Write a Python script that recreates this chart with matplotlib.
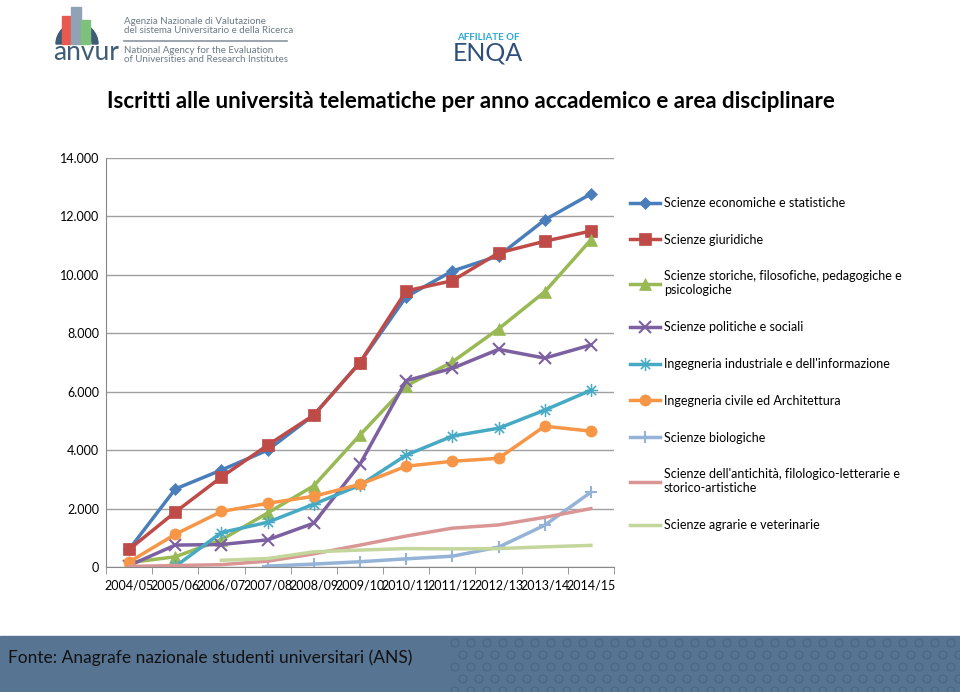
import numpy as np
import matplotlib
matplotlib.use('Agg')
from matplotlib import pyplot as plt
from matplotlib.patches import Rectangle, Wedge, Circle

plt.rcParams['font.family'] = ['Lato', 'DejaVu Sans']

years = ['2004/05', '2005/06', '2006/07', '2007/08', '2008/09', '2009/10',
         '2010/11', '2011/12', '2012/13', '2013/14', '2014/15']
nan = np.nan

economiche = [600, 2670, 3320, 4000, 5200, 7000, 9250, 10130, 10650, 11880, 12770]
giuridiche = [600, 1880, 3080, 4170, 5200, 7000, 9450, 9800, 10750, 11150, 11500]
storiche = [150, 350, 930, 1850, 2780, 4520, 6200, 7020, 8150, 9420, 11200]
politiche = [50, 750, 770, 930, 1500, 3520, 6380, 6800, 7450, 7150, 7600]
industriale = [nan, 20, 1180, 1530, 2150, 2800, 3830, 4480, 4750, 5370, 6050]
civile = [170, 1120, 1900, 2180, 2420, 2830, 3450, 3620, 3720, 4820, 4650]
biologiche = [nan, nan, nan, 30, 100, 180, 280, 370, 680, 1430, 2560]
antichita = [20, 50, 80, 200, 450, 750, 1060, 1330, 1440, 1700, 2000]
agrarie = [nan, nan, 230, 290, 520, 580, 630, 620, 630, 690, 740]

series = [
    ('Scienze economiche e statistiche', economiche, '#4A7EBB', 'D', 6),
    ('Scienze giuridiche', giuridiche, '#BE4B48', 's', 8),
    ('Scienze storiche, filosofiche, pedagogiche e\npsicologiche', storiche, '#98B954', '^', 8),
    ('Scienze politiche e sociali', politiche, '#7D60A0', 'x', 8),
    ("Ingegneria industriale e dell'informazione", industriale, '#46AAC5', '$\u2733$', 9),
    ('Ingegneria civile ed Architettura', civile, '#F79646', 'o', 8),
    ('Scienze biologiche', biologiche, '#95B3D7', '+', 8),
    ("Scienze dell'antichità, filologico-letterarie e\nstorico-artistiche", antichita, '#D99694', None, 0),
    ('Scienze agrarie e veterinarie', agrarie, '#C3D69B', None, 0),
]

W, H = 960, 692
fig = plt.figure(figsize=(W / 100, H / 100), dpi=100)

def box(x0, y0, x1, y1):
    return [x0 / W, 1 - y1 / H, (x1 - x0) / W, (y1 - y0) / H]

def fx(px):
    return px / W

def fy(py):
    return 1 - py / H

# header logos
fig.patches.append(Wedge((77 / 100, (H - 44) / 100), 0.21, 0, 180, width=0.06,
                         transform=fig.dpi_scale_trans, color='#3E5C74'))
fig.patches.append(Rectangle((fx(62), fy(44)), 9 / W, 28 / H, transform=fig.transFigure, color='#E8594F'))
fig.patches.append(Rectangle((fx(71), fy(44)), 10 / W, 37 / H, transform=fig.transFigure, color='#8FA3B5'))
fig.patches.append(Rectangle((fx(81), fy(44)), 9 / W, 24 / H, transform=fig.transFigure, color='#7CC27A'))
fig.text(fx(86), fy(53), 'anvur', fontsize=19, color='#3E5C74', ha='center', va='center')
fig.text(fx(124), fy(26), 'Agenzia Nazionale di Valutazione\ndel sistema Universitario e della Ricerca',
         fontsize=7, color='#6B7A86', va='center', linespacing=1.1)
fig.lines.append(plt.Line2D([fx(124), fx(287)], [fy(41), fy(41)], transform=fig.transFigure,
                            color='#8A959E', lw=1.2))
fig.text(fx(124), fy(55), 'National Agency for the Evaluation\nof Universities and Research Institutes',
         fontsize=7, color='#6B7A86', va='center', linespacing=1.1)
fig.text(fx(488), fy(37), 'AFFILIATE OF', fontsize=7, color='#2FA8D6', ha='center', va='center',
         fontweight='bold')
fig.text(fx(488), fy(53), 'ENQA', fontsize=18, color='#2E4F7A', ha='center', va='center')

# title
fig.text(fx(107), fy(101), 'Iscritti alle università telematiche per anno accademico e area disciplinare',
         fontsize=16, fontweight='bold', va='center')

# footer band with a faint decorative pattern on the right
fig.patches.append(Rectangle((0, 0), 1, 56 / H, transform=fig.transFigure, color='#587493'))
for j, py in enumerate(range(643, 692, 12)):
    for px in range(455, 960, 16):
        cx = px + (8 if j % 2 else 0)
        fig.patches.append(Circle((cx / 100, (H - py) / 100), 0.04, transform=fig.dpi_scale_trans,
                                  fill=False, edgecolor='#4A6688', lw=0.8))
fig.text(fx(8), fy(658), 'Fonte: Anagrafe nazionale studenti universitari (ANS)', fontsize=12.5,
         color='#111111', va='center')

ax = fig.add_axes(box(106, 158, 614, 567))
x = np.arange(len(years))
for label, vals, color, marker, ms in series:
    ax.plot(x, vals, color=color, lw=2.5, marker=marker, markersize=ms, label=label,
            markeredgewidth=1.5 if marker in ('x', '+') else 0.5, markeredgecolor=color)

ax.set_xlim(-0.5, len(years) - 0.5)
ax.set_ylim(0, 14000)
ax.set_yticks(np.arange(0, 14001, 2000))
ax.set_yticklabels(['0' if v == 0 else f'{v // 1000}.000' for v in range(0, 14001, 2000)])
ax.set_xticks(x)
ax.set_xticklabels(years)
ax.set_xticks(np.arange(-0.5, len(years)), minor=True)
ax.tick_params(axis='x', which='major', length=0, labelsize=9, pad=9)
ax.tick_params(axis='x', which='minor', length=5, color='#888888')
ax.tick_params(axis='y', length=0, labelsize=9, pad=5)
ax.grid(axis='y', color='#A0A0A0', lw=1)
ax.set_axisbelow(True)
for s in ['top', 'right']:
    ax.spines[s].set_visible(False)
ax.spines['left'].set_color('#888888')
ax.spines['bottom'].set_color('#888888')

ax.legend(loc='upper left', bbox_to_anchor=(fx(630), fy(197)), bbox_transform=fig.transFigure,
          frameon=False, fontsize=9, labelspacing=1.98, handlelength=2.4, handletextpad=0.3,
          borderaxespad=0, borderpad=0)

fig.savefig('out.png', dpi=100)
